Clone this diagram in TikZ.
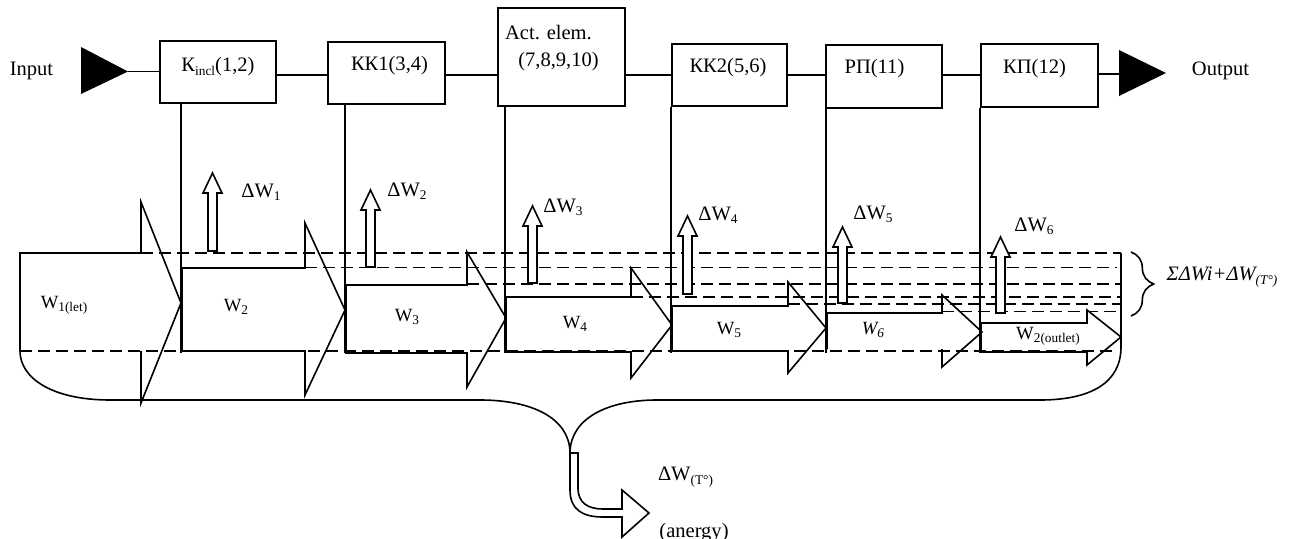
\documentclass[tikz,border=0pt]{standalone}
\usepackage{fontspec}
\setmainfont{Liberation Serif}
\usetikzlibrary{decorations.pathreplacing,calc}
\newcommand\lowtxt[1]{\raisebox{-0.35ex}{\fontsize{10}{10}\selectfont #1}}
\newcommand\hollowup[3]{\draw[fill=white] (#1-4.5,#2) -- (#1-4.5,#3+20) -- (#1-9.5,#3+20) -- (#1,#3) -- (#1+9.5,#3+20) -- (#1+4.5,#3+20) -- (#1+4.5,#2) -- cycle;}
\begin{document}
\begin{tikzpicture}[x=0.75pt,y=-0.75pt,line width=1.2pt,
  font=\fontsize{15.4}{18}\selectfont,
  box/.style={draw,rectangle,inner sep=0pt},
  lbl/.style={inner sep=0pt},
  wlbl/.style={inner sep=0pt,font=\fontsize{14}{16}\selectfont},
  dashline/.style={dash pattern=on 9pt off 4.5pt}]
\useasboundingbox (0,0) rectangle (1297,539);

% boxes
\node[box,minimum width=87pt,minimum height=46.5pt] (k1) at (218,72) {};
\node[box,minimum width=87.75pt,minimum height=46.5pt] (kk1) at (386.5,73) {};
\node[box,minimum width=95.25pt,minimum height=73.5pt] (act) at (561.5,57) {};
\node[box,minimum width=86.25pt,minimum height=46.5pt] (kk2) at (729.5,75) {};
\node[box,minimum width=87pt,minimum height=47.25pt] (rp) at (884,76.5) {};
\node[box,minimum width=87.75pt,minimum height=47.25pt] (kp) at (1039.5,75.5) {};

\node[lbl] (tk1) at (218,67) {К\lowtxt{incl}(1,2)};
\node[lbl] (tkk1) at (389.5,66) {КК1(3,4)};
\node[lbl] (tact1) at (548.5,33) {Act. elem.};
\node[lbl] (tact2) at (558.5,62) {(7,8,9,10)};
\node[lbl] (tkk2) at (728,68) {КК2(5,6)};
\node[lbl] (trp) at (874.5,69) {РП(11)};
\node[lbl] (tkp) at (1034.5,69) {КП(12)};

\node[lbl] (tin) at (31.5,71) {Input};
\node[lbl] (tout) at (1220.5,71) {Output};

% input / output triangles
\fill (81,47) -- (128,71.5) -- (81,94) -- cycle;
\coordinate (inTip) at (128,71.5);
\draw (inTip) -- (inTip -| k1.west);
\fill (1119,50) -- (1166,73) -- (1119,96) -- cycle;
\coordinate (outBase) at (1119,74);

% connectors
\draw ($(k1.east)+(0,3)$) -- ($(kk1.west |- k1.east)+(0,3)$);
\draw ($(kk1.east)+(0,2)$) -- ($(act.west |- kk1.east)+(0,2)$);
\draw (act.east |- kk2.west) -- (kk2.west);
\draw (kk2.east) -- (kk2.east -| rp.west);
\draw ($(rp.east)+(0,-1.5)$) -- ($(kp.west |- rp.east)+(0,-1.5)$);
\draw ($(kp.east)+(0,-1.5)$) -- (outBase);

% vertical lines from boxes
\draw ([xshift=16.5pt]k1.south west) -- ++(0,249);
\draw ([xshift=13.5pt]kk1.south west) -- ++(0,248);
\draw ([xshift=6pt]act.south west) -- ++(0,246);
\draw (kk2.south west) -- ++(0,246);
\draw ([xshift=0.75pt]rp.south west) -- ++(0,244);
\draw (kp.south west) -- ++(0,245);

% dashed levels
\draw[dashline] (141,253) -- (1121,253);
\draw[dashline] (305,267.5) -- (1117,267.5);
\draw[dashline] (467,284) -- (1121,284);
\draw[dashline] (631,297) -- (1121,297);
\draw[dashline] (788,304) -- (1121,304);
\draw[dashline] (942,311.5) -- (1121,311.5);
\draw[dashline] (20,351) -- (1112,351);

% flow arrows
\draw (20,351) -- (20,253) -- (141,253) -- (141,202) -- (181,303) -- (141,403) -- (141,351);
\draw (182,351) -- (182,268) -- (305,268) -- (305,223) -- (345,310) -- (305,395) -- (305,351) -- cycle;
\draw (346,353) -- (346,285) -- (467,285) -- (467,252) -- (506,318) -- (467,387) -- (467,353) -- cycle;
\draw (506,352) -- (506,297) -- (631,297) -- (631,268) -- (672,325) -- (631,378) -- (631,352) -- cycle;
\draw (672,351) -- (672,306) -- (788,306) -- (788,282) -- (826,328) -- (788,373) -- (788,351) -- cycle;
\draw (827,349) -- (827,313) -- (942,313) -- (942,295) -- (982,332) -- (942,367) -- (942,349);
\draw (981,352) -- (981,323) -- (1087,323) -- (1087,310) -- (1121,337) -- (1087,365) -- (1087,352) -- cycle;

% losses
\hollowup{212.5}{251}{173}
\hollowup{370.5}{267}{190}
\hollowup{532.5}{283}{206}
\hollowup{687.5}{294}{216}
\hollowup{842.5}{303}{227}
\hollowup{1000.5}{313}{237}

% outer brace path
\draw (20,351) .. controls (20,378) and (52,400) .. (110,400) -- (480,400)
  .. controls (532,400) and (569,418) .. (570,452)
  .. controls (571,418) and (608,400) .. (657,400) -- (1040,400)
  .. controls (1092,400) and (1121,382) .. (1121,347) -- (1121,253);

% anergy arrow
\draw[fill=white] (570,453) -- (570,490) .. controls (570,510) and (583,517) .. (603,517) -- (622,517)
  -- (622,537) -- (649,513) -- (622,490) -- (622,509) -- (603,509)
  .. controls (588,509) and (578,503) .. (578,488) -- (578,453) -- cycle;

% right brace
\draw[decorate,decoration={brace,amplitude=17pt}] (1131,252) -- (1131,316);

% labels
\node[lbl] (dw1) at (261,192) {ΔW\lowtxt{1}};
\node[lbl] (dw2) at (407,191) {ΔW\lowtxt{2}};
\node[lbl] (dw3) at (563,207) {ΔW\lowtxt{3}};
\node[lbl] (dw4) at (718,215) {ΔW\lowtxt{4}};
\node[lbl] (dw5) at (873,214) {ΔW\lowtxt{5}};
\node[lbl] (dw6) at (1034,226) {ΔW\lowtxt{6}};

\node[wlbl] (w1) at (64,305) {W\lowtxt{1(let)}};
\node[wlbl] (w2) at (236,307) {W\lowtxt{2}};
\node[wlbl] (w3) at (407,317) {W\lowtxt{3}};
\node[wlbl] (w4) at (575,324) {W\lowtxt{4}};
\node[wlbl] (w5) at (729,330) {W\lowtxt{5}};
\node[wlbl] (w6) at (873,330) {\itshape W\lowtxt{6}};
\node[wlbl] (w7) at (1048,336) {W\lowtxt{2(outlet)}};

\node[lbl] (sum) at (1222,277) {\itshape ΣΔWi+ΔW\lowtxt{(T°)}};
\node[lbl] (dwt) at (685.5,477) {ΔW\lowtxt{(T°)}};
\node[lbl] (aner) at (694,533) {(anergy)};
\end{tikzpicture}
\end{document}
